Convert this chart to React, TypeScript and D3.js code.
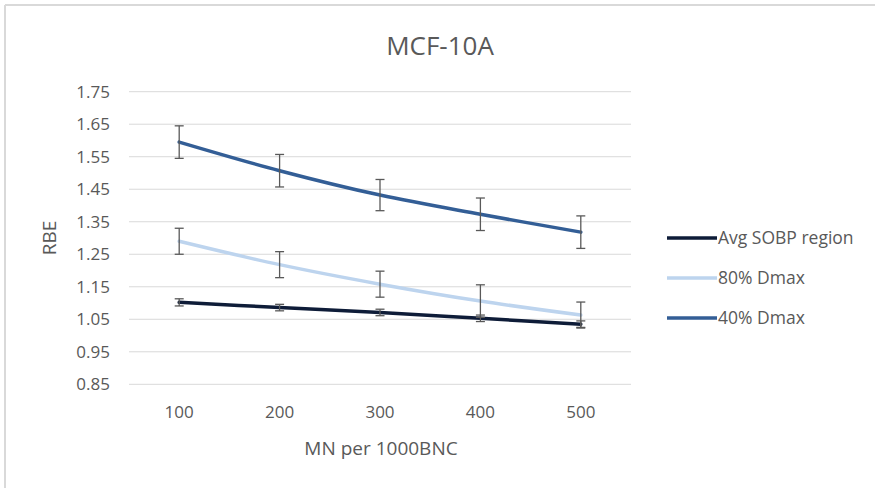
import * as d3 from "d3";
import React from "react";

const categories = ["100", "200", "300", "400", "500"];
const seriesNames = ["Avg SOBP region", "80% Dmax", "40% Dmax"];
const avgSobp = [1.102, 1.086, 1.071, 1.053, 1.035];
const avgSobpErr = [0.011, 0.01, 0.01, 0.01, 0.01];
const dmax80 = [1.29, 1.218, 1.158, 1.106, 1.063];
const dmax80Err = [0.04, 0.04, 0.04, 0.05, 0.04];
const dmax40 = [1.595, 1.507, 1.432, 1.373, 1.318];
const dmax40Err = [0.05, 0.05, 0.048, 0.05, 0.05];
const yTicks = [0.85, 0.95, 1.05, 1.15, 1.25, 1.35, 1.45, 1.55, 1.65, 1.75];
const colors = ["#0e1c38", "#bdd4ee", "#335e96"];

const W = 875;
const H = 488;
const FONT = "'Open Sans', 'Noto Sans', sans-serif";

const App = () => {
  const x = d3.scaleBand().domain(categories).range([129, 631]);
  const y = d3.scaleLinear().domain([0.85, 1.75]).range([384.3, 91.7]);
  const cx = (c: string) => (x(c) as number) + x.bandwidth() / 2;

  const values = [avgSobp, dmax80, dmax40];
  const errors = [avgSobpErr, dmax80Err, dmax40Err];

  const line = d3
    .line<number>()
    .x((_, i) => cx(categories[i]))
    .y((d) => y(d))
    .curve(d3.curveCatmullRom.alpha(0.5));

  return (
    <svg width={W} height={H} style={{ position: "absolute", left: 0, top: 0, background: "#fff" }}>
      <rect x={0} y={0} width={W} height={H} fill="#fff" />
      {/* outer chart border, top and left visible */}
      <line x1={5} x2={W} y1={5} y2={5} stroke="#d9d9d9" strokeWidth={2} />
      <line x1={5} x2={5} y1={5} y2={H} stroke="#d9d9d9" strokeWidth={2} />

      <text x={440} y={55} textAnchor="middle" fontFamily={FONT} fontSize={26} fill="#595959">
        MCF-10A
      </text>

      {yTicks.map((t) => (
        <g key={t}>
          <line x1={129} x2={631} y1={y(t)} y2={y(t)} stroke="#d9d9d9" strokeWidth={1} />
          <text x={110} y={y(t)} dy="0.36em" textAnchor="end" fontFamily={FONT} fontSize={17} fill="#595959">
            {t.toFixed(2)}
          </text>
        </g>
      ))}

      {categories.map((c) => (
        <text key={c} x={cx(c)} y={412} dy="0.36em" textAnchor="middle" fontFamily={FONT} fontSize={17} fill="#595959">
          {c}
        </text>
      ))}

      <text x={381} y={448} dy="0.36em" textAnchor="middle" fontFamily={FONT} fontSize={19} fill="#595959">
        MN per 1000BNC
      </text>
      <text
        transform={`translate(49,238) rotate(-90)`}
        dy="0.36em"
        textAnchor="middle"
        fontFamily={FONT}
        fontSize={19}
        fill="#595959"
      >
        RBE
      </text>

      {values.map((v, s) => (
        <path key={s} d={line(v) as string} fill="none" stroke={colors[s]} strokeWidth={3.5} strokeLinecap="round" />
      ))}

      {values.map((v, s) =>
        v.map((d, i) => {
          const px = cx(categories[i]);
          const top = y(d + errors[s][i]);
          const bot = y(d - errors[s][i]);
          return (
            <g key={`${s}-${i}`} stroke="#595959" strokeWidth={1.3}>
              <line x1={px} x2={px} y1={top} y2={bot} />
              <line x1={px - 4.5} x2={px + 4.5} y1={top} y2={top} />
              <line x1={px - 4.5} x2={px + 4.5} y1={bot} y2={bot} />
            </g>
          );
        })
      )}

      {seriesNames.map((n, i) => (
        <g key={n} transform={`translate(667,${238 + i * 40})`}>
          <line x1={0} x2={50} y1={0} y2={0} stroke={colors[i]} strokeWidth={3.5} />
          <text x={51} y={0} dy="0.36em" fontFamily={FONT} fontSize={17.5} fill="#595959">
            {n}
          </text>
        </g>
      ))}
    </svg>
  );
};

export default App;
